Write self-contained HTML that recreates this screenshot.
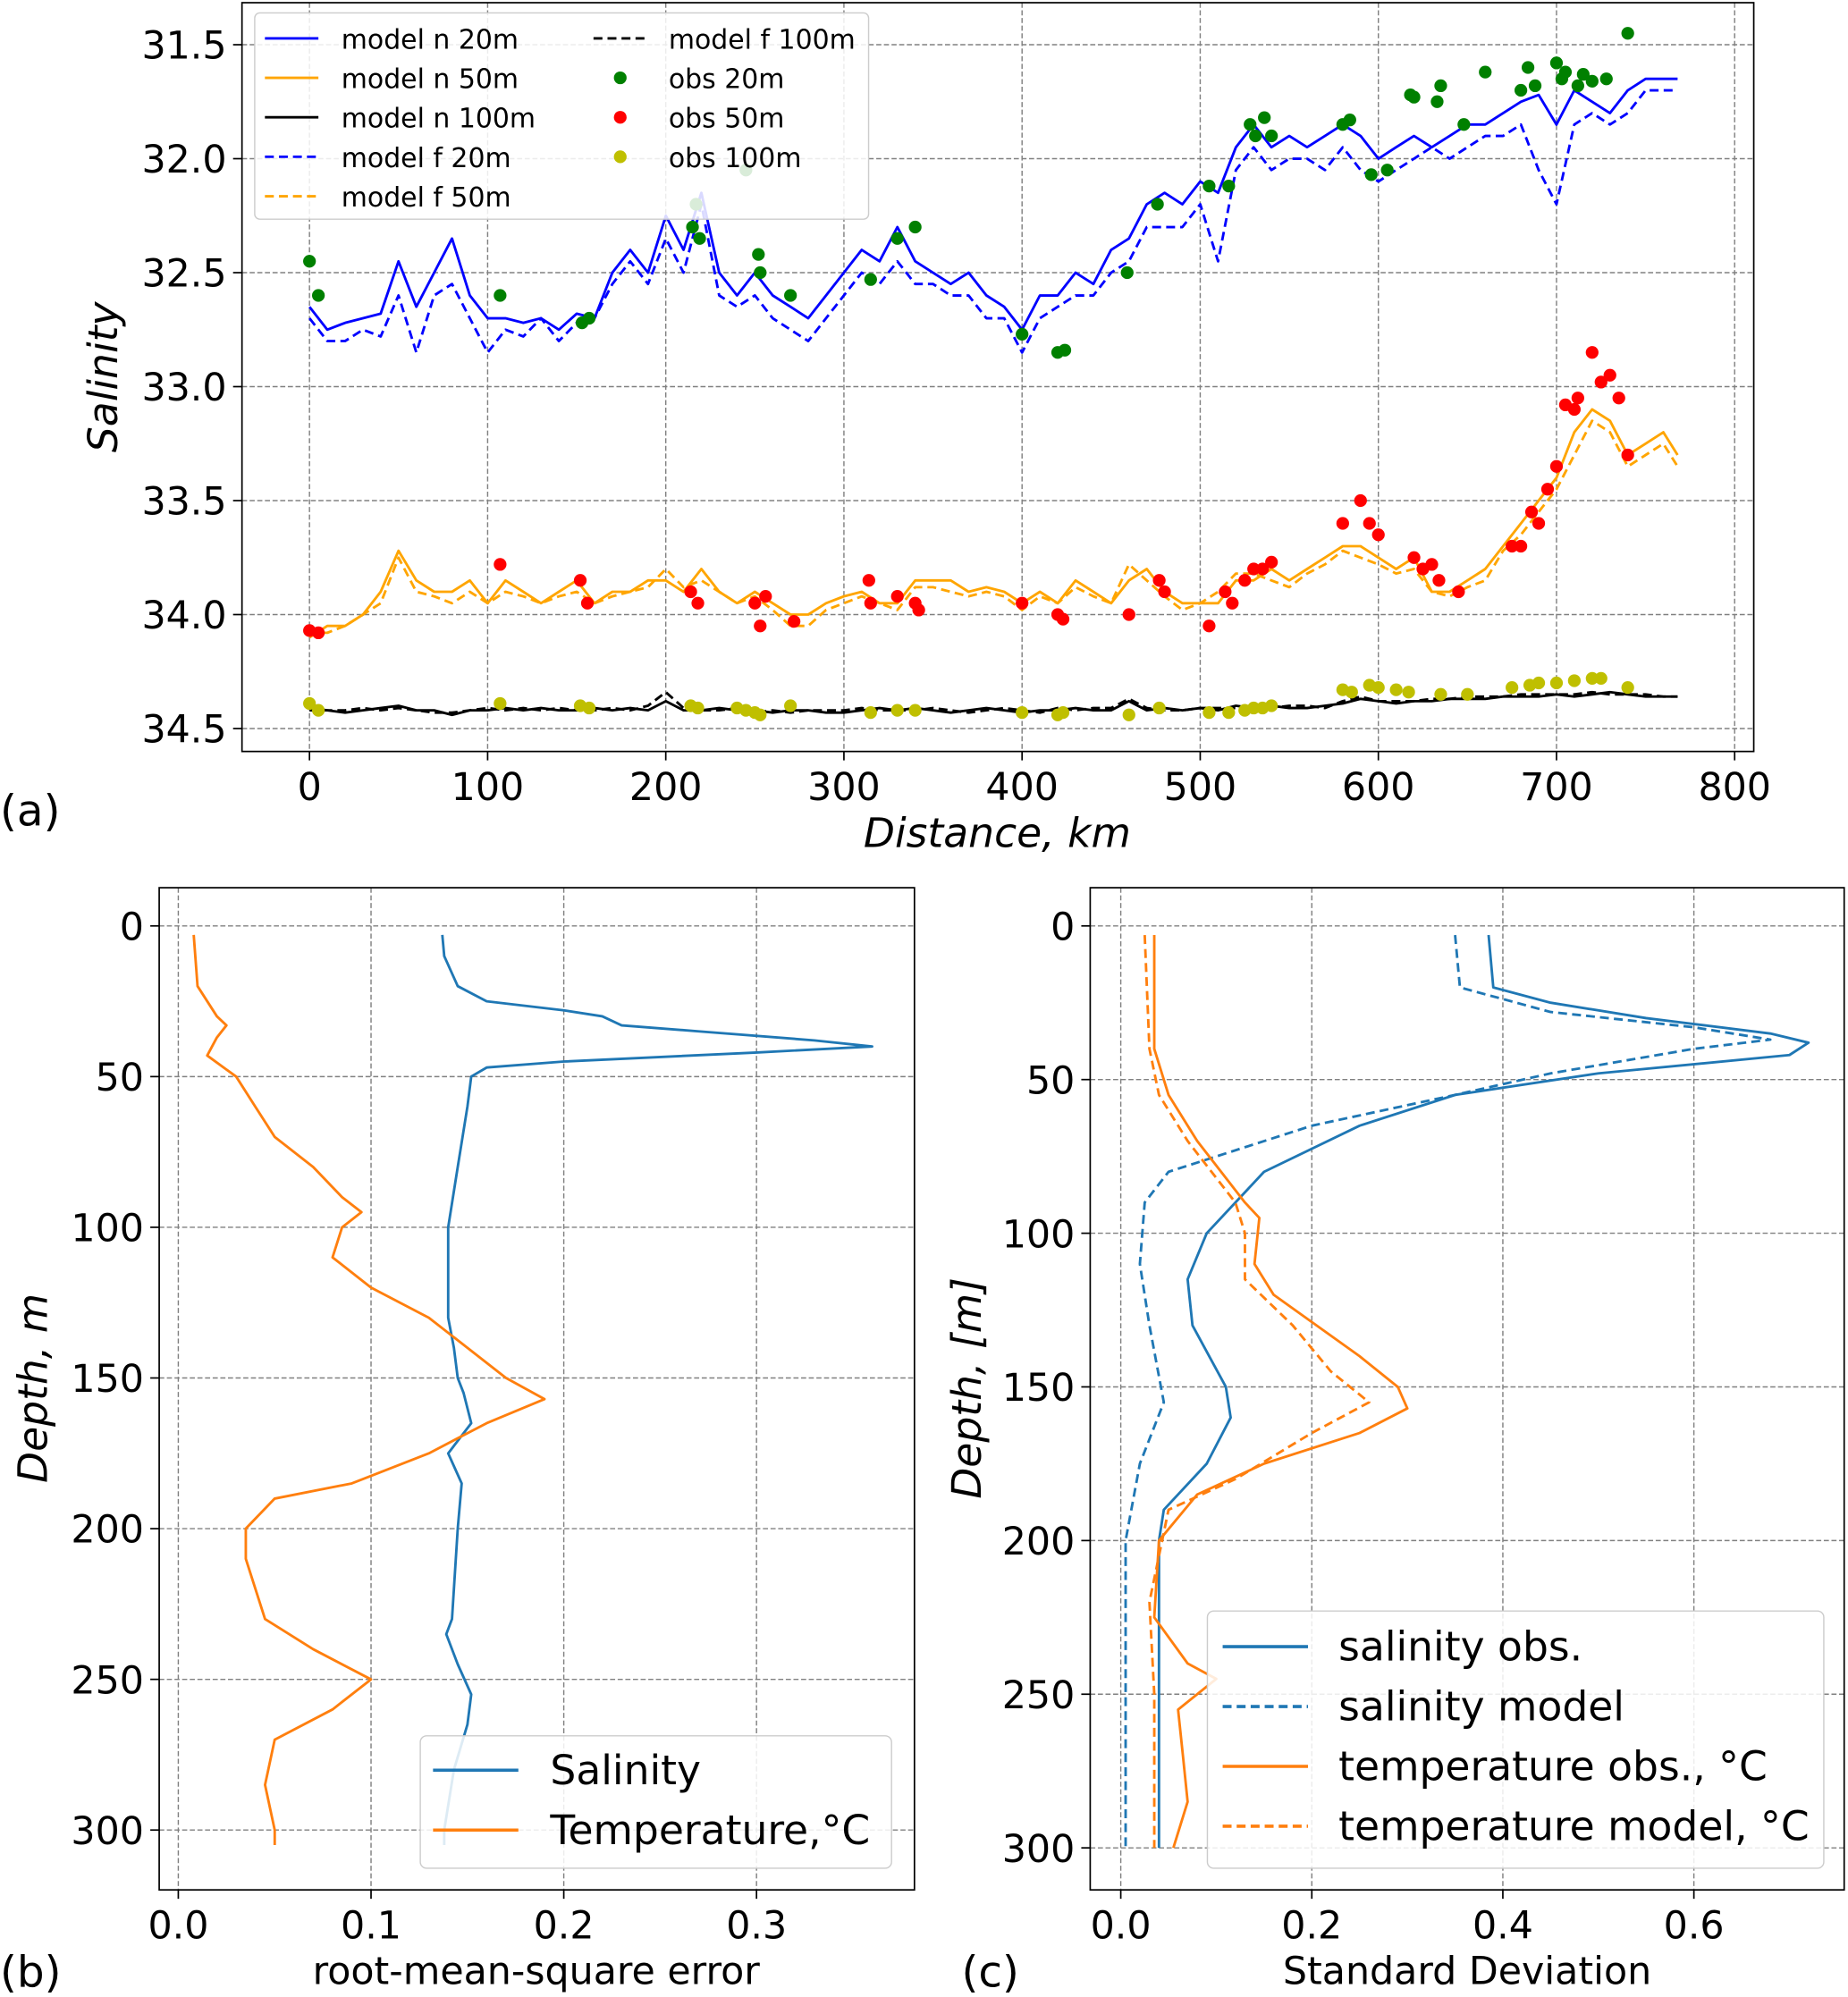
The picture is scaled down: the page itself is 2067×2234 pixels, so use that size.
<!DOCTYPE html>
<html><head><meta charset="utf-8"><style>
html,body{margin:0;padding:0;background:#fff}
svg{display:block;font-family:"DejaVu Sans","Liberation Sans",sans-serif}
</style></head><body>
<svg id="fig" width="2067" height="2234" viewBox="0 0 1451 1568" xmlns="http://www.w3.org/2000/svg"></svg>
<script>
// ---------- Panel (a) data ----------
const distA = [0,10,20,30,40,50,60,70,80,90,100,110,120,130,140,150,160,170,180,190,200,210,220,230,240,250,260,270,280,290,300,310,320,330,340,350,360,370,380,390,400,410,420,430,440,450,460,470,480,490,500,510,520,530,540,550,560,570,580,590,600,610,620,630,640,650,660,670,680,690,700,710,720,730,740,750,760,768];
const n20 = [32.65,32.75,32.72,32.7,32.68,32.45,32.65,32.5,32.35,32.6,32.7,32.7,32.72,32.7,32.75,32.68,32.7,32.5,32.4,32.5,32.25,32.4,32.15,32.5,32.6,32.5,32.6,32.65,32.7,32.6,32.5,32.4,32.45,32.3,32.45,32.5,32.55,32.5,32.6,32.65,32.75,32.6,32.6,32.5,32.55,32.4,32.35,32.2,32.15,32.2,32.1,32.15,31.95,31.85,31.95,31.9,31.95,31.9,31.85,31.9,32.0,31.95,31.9,31.95,31.9,31.85,31.85,31.8,31.75,31.72,31.85,31.7,31.75,31.8,31.7,31.65,31.65,31.65];
const f20 = [32.7,32.8,32.8,32.75,32.78,32.6,32.85,32.6,32.55,32.7,32.85,32.75,32.78,32.7,32.8,32.72,32.7,32.55,32.45,32.55,32.35,32.5,32.2,32.6,32.65,32.6,32.7,32.75,32.8,32.7,32.6,32.5,32.55,32.45,32.55,32.55,32.6,32.6,32.7,32.7,32.85,32.7,32.65,32.6,32.6,32.5,32.45,32.3,32.3,32.3,32.2,32.45,32.05,31.95,32.05,32.0,32.0,32.05,31.95,32.05,32.1,32.05,32.0,31.95,32.0,31.95,31.9,31.9,31.85,32.05,32.2,31.85,31.8,31.85,31.8,31.7,31.7,31.7];
const n50 = [34.1,34.05,34.05,34.0,33.9,33.72,33.85,33.9,33.9,33.85,33.95,33.85,33.9,33.95,33.9,33.85,33.95,33.9,33.9,33.85,33.85,33.9,33.8,33.9,33.95,33.9,33.95,34.0,34.0,33.95,33.92,33.9,33.95,33.95,33.85,33.85,33.85,33.9,33.88,33.9,33.95,33.9,33.95,33.85,33.9,33.95,33.85,33.8,33.9,33.95,33.95,33.95,33.85,33.85,33.8,33.85,33.8,33.75,33.7,33.7,33.75,33.8,33.75,33.9,33.9,33.85,33.8,33.7,33.6,33.5,33.4,33.2,33.1,33.15,33.3,33.25,33.2,33.3];
const f50 = [34.08,34.08,34.05,34.0,33.95,33.75,33.9,33.92,33.95,33.9,33.95,33.9,33.92,33.95,33.92,33.9,33.95,33.92,33.9,33.88,33.8,33.88,33.85,33.9,33.95,33.92,33.98,34.05,34.05,33.98,33.95,33.92,33.95,33.98,33.88,33.88,33.9,33.92,33.9,33.92,33.98,33.92,33.95,33.88,33.92,33.95,33.78,33.85,33.92,33.98,33.95,33.9,33.82,33.82,33.85,33.88,33.82,33.78,33.72,33.75,33.78,33.82,33.8,33.9,33.92,33.88,33.85,33.72,33.65,33.55,33.45,33.3,33.15,33.2,33.35,33.3,33.25,33.35];
const n100 = [34.42,34.42,34.43,34.42,34.41,34.4,34.42,34.42,34.44,34.42,34.42,34.41,34.42,34.41,34.42,34.42,34.41,34.42,34.41,34.42,34.38,34.42,34.42,34.41,34.42,34.42,34.43,34.42,34.42,34.43,34.43,34.42,34.41,34.42,34.41,34.42,34.43,34.42,34.41,34.42,34.43,34.42,34.42,34.41,34.42,34.42,34.38,34.42,34.41,34.42,34.41,34.42,34.4,34.41,34.4,34.41,34.41,34.4,34.39,34.37,34.38,34.39,34.38,34.38,34.37,34.37,34.37,34.36,34.36,34.36,34.35,34.36,34.35,34.34,34.35,34.36,34.36,34.36];
const f100 = [34.41,34.42,34.42,34.41,34.42,34.41,34.42,34.43,34.43,34.42,34.41,34.42,34.41,34.42,34.41,34.42,34.42,34.41,34.42,34.4,34.34,34.41,34.42,34.42,34.41,34.43,34.42,34.43,34.42,34.42,34.42,34.41,34.42,34.42,34.42,34.41,34.42,34.43,34.42,34.41,34.42,34.43,34.41,34.42,34.41,34.41,34.37,34.41,34.42,34.42,34.41,34.41,34.41,34.4,34.41,34.4,34.4,34.41,34.38,34.36,34.38,34.38,34.38,34.37,34.37,34.36,34.36,34.36,34.35,34.35,34.35,34.35,34.34,34.35,34.35,34.35,34.36,34.36];
const obs20x = [0,5,107,153,157,215,217,219,245,252,253,270,315,330,340,400,420,424,459,476,505,516,528,531,536,540,580,584,596,605,618,620,633,635,648,660,680,684,688,700,703,705,712,715,720,728,740];
const obs20y = [32.45,32.6,32.6,32.72,32.7,32.3,32.2,32.35,32.05,32.42,32.5,32.6,32.53,32.35,32.3,32.77,32.85,32.84,32.5,32.2,32.12,32.12,31.85,31.9,31.82,31.9,31.85,31.83,32.07,32.05,31.72,31.73,31.75,31.68,31.85,31.62,31.7,31.6,31.68,31.58,31.65,31.62,31.68,31.63,31.66,31.65,31.45];
const obs50x = [0,5,107,152,156,214,218,250,253,256,272,314,315,330,340,342,400,420,423,460,477,480,505,514,518,525,530,535,540,580,590,595,600,620,625,630,634,645,675,680,686,690,695,700,705,710,712,720,725,730,735,740];
const obs50y = [34.07,34.08,33.78,33.85,33.95,33.9,33.95,33.95,34.05,33.92,34.03,33.85,33.95,33.92,33.95,33.98,33.95,34.0,34.02,34.0,33.85,33.9,34.05,33.9,33.95,33.85,33.8,33.8,33.77,33.6,33.5,33.6,33.65,33.75,33.8,33.78,33.85,33.9,33.7,33.7,33.55,33.6,33.45,33.35,33.08,33.1,33.05,32.85,32.98,32.95,33.05,33.3];
const obs100x = [0,5,107,152,157,214,218,240,245,250,253,270,315,330,340,400,420,423,460,477,505,516,525,530,535,540,580,585,595,600,610,617,635,650,675,685,690,700,710,720,725,740];
const obs100y = [34.39,34.42,34.39,34.4,34.41,34.4,34.41,34.41,34.42,34.43,34.44,34.4,34.43,34.42,34.42,34.43,34.44,34.43,34.44,34.41,34.43,34.43,34.42,34.41,34.41,34.4,34.33,34.34,34.31,34.32,34.33,34.34,34.35,34.35,34.32,34.31,34.3,34.3,34.29,34.28,34.28,34.32];
const xTicksA = [0,100,200,300,400,500,600,700,800];
const yTicksA = [31.5,32.0,32.5,33.0,33.5,34.0,34.5];
// ---------- Panel (b) data ----------
const bSalD = [3,10,20,25,28,30,33,35,38,40,42,45,47,50,60,80,100,130,140,150,155,165,175,185,200,230,235,245,255,265,280,300,305];
const bSalV = [0.137,0.138,0.145,0.16,0.2,0.22,0.23,0.27,0.33,0.36,0.3,0.2,0.16,0.152,0.15,0.145,0.14,0.14,0.143,0.145,0.148,0.152,0.14,0.147,0.145,0.142,0.139,0.145,0.152,0.15,0.143,0.138,0.138];
const bTmpD = [3,20,30,33,37,43,50,60,70,80,90,95,100,110,120,130,140,150,157,165,175,185,190,200,210,230,240,250,260,270,285,300,305];
const bTmpV = [0.008,0.01,0.02,0.025,0.02,0.015,0.03,0.04,0.05,0.07,0.085,0.095,0.085,0.08,0.1,0.13,0.15,0.17,0.19,0.16,0.13,0.09,0.05,0.035,0.035,0.045,0.07,0.1,0.08,0.05,0.045,0.05,0.05];
const xTicksB = [0.0,0.1,0.2,0.3];
const yTicksB = [0,50,100,150,200,250,300];
// ---------- Panel (c) data ----------
const cSoD = [3,20,25,30,35,38,42,48,55,65,80,100,115,130,150,160,175,190,200,240,300];
const cSoV = [0.385,0.39,0.45,0.55,0.68,0.72,0.7,0.5,0.35,0.25,0.15,0.09,0.07,0.075,0.11,0.115,0.09,0.045,0.04,0.04,0.04];
const cSmD = [3,20,28,33,37,40,48,55,65,80,90,110,130,155,175,200,300];
const cSmV = [0.35,0.355,0.45,0.6,0.68,0.6,0.45,0.35,0.2,0.05,0.025,0.02,0.03,0.045,0.02,0.005,0.005];
const cToD = [3,40,55,70,90,95,110,120,140,150,157,165,175,185,200,225,240,245,255,270,285,300];
const cToV = [0.035,0.035,0.05,0.08,0.13,0.145,0.14,0.16,0.25,0.29,0.3,0.25,0.15,0.08,0.04,0.035,0.07,0.1,0.06,0.065,0.07,0.055];
const cTmD = [3,40,55,70,90,100,115,130,145,155,165,180,190,220,250,300];
const cTmV = [0.025,0.03,0.04,0.07,0.12,0.13,0.13,0.18,0.22,0.26,0.2,0.12,0.05,0.03,0.035,0.035];
const xTicksC = [0.0,0.2,0.4,0.6];
const yTicksC = [0,50,100,150,200,250,300];

const NS='http://www.w3.org/2000/svg';
const svg=document.getElementById('fig');
function mk(tag,attrs,parent){const e=document.createElementNS(NS,tag);for(const k in attrs)e.setAttribute(k,attrs[k]);(parent||svg).appendChild(e);return e;}
function txt(s,x,y,size,anchor,parent,extra){const t=mk('text',Object.assign({x:x,y:y,'font-size':size,'text-anchor':anchor||'start',fill:'#000'},extra||{}),parent);t.textContent=s;return t;}
function lin(d0,d1,r0,r1){return v=>r0+(v-d0)*(r1-r0)/(d1-d0);}
function pathD(xs,ys,fx,fy){return xs.map((v,i)=>(i?'L':'M')+fx(v).toFixed(1)+','+fy(ys[i]).toFixed(1)).join('');}

function axes(name,L,T,R,B,fx,fy,xt,yt,fmtX,fmtY){
  const g=mk('g',{});
  
  
  xt.forEach(v=>{const x=fx(v);mk('line',{x1:x,y1:T,x2:x,y2:B,stroke:'#808080','stroke-width':1,'stroke-dasharray':'4,2'},g);mk('line',{x1:x,y1:B,x2:x,y2:B+7,stroke:'#000','stroke-width':1.2},g);const t=txt(fmtX(v),x,B+38,30,'middle',g);});
  yt.forEach(v=>{const y=fy(v);mk('line',{x1:L,y1:y,x2:R,y2:y,stroke:'#808080','stroke-width':1,'stroke-dasharray':'4,2'},g);mk('line',{x1:L-7,y1:y,x2:L,y2:y,stroke:'#000','stroke-width':1.2},g);const t=txt(fmtY(v),L-12,y+11,30,'end',g);});
  mk('rect',{x:L,y:T,width:R-L,height:B-T,fill:'none',stroke:'#000','stroke-width':1.2},g);
  return g;
}
function line(name,xs,ys,fx,fy,color,dash,w){const p=mk('path',{d:pathD(xs,ys,fx,fy),fill:'none',stroke:color,'stroke-width':w||2,'stroke-dasharray':dash||'none','stroke-linejoin':'round'});return p;}
function dots(name,xs,ys,fx,fy,color){const g=mk('g',{});xs.forEach((v,i)=>{mk('circle',{cx:fx(v),cy:fy(ys[i]),r:5,fill:color},g);});}

// ---- Panel a ----
const ax=lin(0,800,243,1362), ay=lin(31.5,34.5,35,572);
axes('panel-a-axes',190,2,1377,590,ax,ay,xTicksA,yTicksA,v=>String(v),v=>v.toFixed(1));
line('model-f-100m',distA,f100,ax,ay,'#000','7,4');
line('model-n-100m',distA,n100,ax,ay,'#000');
line('model-f-50m',distA,f50,ax,ay,'#ffa500','7,4');
line('model-n-50m',distA,n50,ax,ay,'#ffa500');
line('model-f-20m',distA,f20,ax,ay,'#0000ff','7,4');
line('model-n-20m',distA,n20,ax,ay,'#0000ff');
dots('obs-20m',obs20x,obs20y,ax,ay,'#008000');
dots('obs-50m',obs50x,obs50y,ax,ay,'#ff0000');
dots('obs-100m',obs100x,obs100y,ax,ay,'#bfbf00');
{const g=mk('g',{});
mk('rect',{x:200,y:10,width:482,height:162,rx:4,fill:'#fff','fill-opacity':0.85,stroke:'#ccc'},g);
const L1=[['model n 20m','#0000ff','none'],['model n 50m','#ffa500','none'],['model n 100m','#000','none'],['model f 20m','#0000ff','7,4'],['model f 50m','#ffa500','7,4']];
L1.forEach((e,i)=>{const y=30+i*31;mk('line',{x1:208,y1:y,x2:250,y2:y,stroke:e[1],'stroke-width':2,'stroke-dasharray':e[2]},g);const t=txt(e[0],268,y+8,21,'start',g);});
const L2=[['model f 100m','line','#000'],['obs 20m','dot','#008000'],['obs 50m','dot','#ff0000'],['obs 100m','dot','#bfbf00']];
L2.forEach((e,i)=>{const y=30+i*31;if(e[1]=='line')mk('line',{x1:466,y1:y,x2:508,y2:y,stroke:e[2],'stroke-width':2,'stroke-dasharray':'7,4'},g);else mk('circle',{cx:487,cy:y,r:5,fill:e[2]},g);const t=txt(e[0],525,y+8,21,'start',g);});}
{let t=txt('Salinity',92,296,32,'middle',null,{transform:'rotate(-90 92 296)','font-style':'italic'});
t=txt('Distance, km',783,665,32,'middle',null,{'font-style':'italic'});
t=txt('(a)',0,648,34,'start');}

// ---- Panel b ----
const bx=lin(0,0.3,140,594), by=lin(0,300,727,1437);
axes('panel-b-axes',125,697,718,1484,bx,by,xTicksB,yTicksB,v=>v.toFixed(1),v=>String(v));
line('salinity-rmse',bSalV,bSalD,bx,by,'#1f77b4',null,2);
line('temperature-rmse',bTmpV,bTmpD,bx,by,'#ff7f0e',null,2);
{const g=mk('g',{});
mk('rect',{x:330,y:1363,width:370,height:104,rx:5,fill:'#fff','fill-opacity':0.85,stroke:'#ccc'},g);
[['Salinity','#1f77b4'],['Temperature,°C','#ff7f0e']].forEach((e,i)=>{const y=1390+i*47;mk('line',{x1:340,y1:y,x2:407,y2:y,stroke:e[1],'stroke-width':2.5},g);const t=txt(e[0],432,y+11,32,'start',g);});}
{let t=txt('Depth, m',37,1090,32,'middle',null,{transform:'rotate(-90 37 1090)','font-style':'italic'});
t=txt('root-mean-square error',421,1558,30,'middle');
t=txt('(b)',0,1560,34,'start');}

// ---- Panel c ----
const cx=lin(0,0.6,880,1330), cy=lin(0,300,727,1451);
axes('panel-c-axes',856,697,1448,1484,cx,cy,xTicksC,yTicksC,v=>v.toFixed(1),v=>String(v));
line('salinity-obs-std',cSoV,cSoD,cx,cy,'#1f77b4',null,2);
line('salinity-model-std',cSmV,cSmD,cx,cy,'#1f77b4','7,4',2);
line('temperature-obs-std',cToV,cToD,cx,cy,'#ff7f0e',null,2);
line('temperature-model-std',cTmV,cTmD,cx,cy,'#ff7f0e','7,4',2);
{const g=mk('g',{});
mk('rect',{x:948,y:1265,width:484,height:202,rx:5,fill:'#fff','fill-opacity':0.85,stroke:'#ccc'},g);
[['salinity obs.','#1f77b4','none'],['salinity model','#1f77b4','7,4'],['temperature obs., °C','#ff7f0e','none'],['temperature model, °C','#ff7f0e','7,4']].forEach((e,i)=>{const y=1293+i*47;mk('line',{x1:960,y1:y,x2:1027,y2:y,stroke:e[1],'stroke-width':2.5,'stroke-dasharray':e[2]},g);const t=txt(e[0],1051,y+11,32,'start',g);});}
{let t=txt('Depth, [m]',770,1090,32,'middle',null,{transform:'rotate(-90 770 1090)','font-style':'italic'});
t=txt('Standard Deviation',1152,1558,30,'middle');
t=txt('(c)',755,1560,34,'start');}
</script>
</body></html>
